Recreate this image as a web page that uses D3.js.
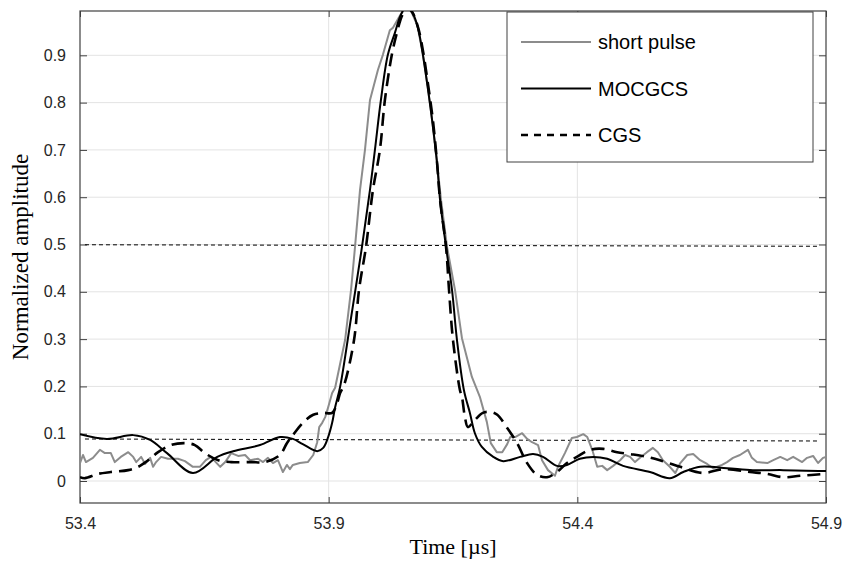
<!DOCTYPE html>
<html>
<head>
<meta charset="utf-8">
<script src="https://cdn.jsdelivr.net/npm/d3@7"></script>
<style>
  body { margin: 0; background: #fff; }
  .tick text { font-family: Arial, "Liberation Sans", sans-serif; font-size: 16px; fill: #262626; }
</style>
</head>
<body>
<div id="chart"></div>
<script>
// Время, мкс и амплитуды
const shortT = [53.400,53.406,53.412,53.426,53.440,53.450,53.462,53.470,53.482,53.497,53.507,53.513,53.523,53.531,53.541,53.547,53.553,53.563,53.577,53.597,53.611,53.627,53.641,53.653,53.663,53.682,53.692,53.704,53.718,53.732,53.742,53.758,53.768,53.778,53.788,53.798,53.808,53.816,53.822,53.828,53.842,53.858,53.869,53.877,53.881,53.887,53.893,53.899,53.907,53.913,53.933,53.945,53.953,53.963,53.973,53.983,53.999,54.009,54.023,54.029,54.044,54.054,54.064,54.078,54.088,54.098,54.108,54.118,54.126,54.138,54.154,54.168,54.188,54.204,54.218,54.226,54.238,54.249,54.259,54.265,54.275,54.289,54.299,54.309,54.321,54.329,54.341,54.355,54.361,54.375,54.389,54.399,54.412,54.420,54.430,54.440,54.450,54.460,54.472,54.486,54.496,54.506,54.516,54.526,54.540,54.552,54.562,54.572,54.586,54.597,54.607,54.621,54.633,54.647,54.661,54.673,54.691,54.701,54.713,54.727,54.743,54.751,54.761,54.782,54.794,54.808,54.822,54.834,54.852,54.862,54.874,54.884,54.894,54.900];
const shortV = [0.038,0.055,0.040,0.049,0.066,0.059,0.059,0.040,0.051,0.061,0.051,0.040,0.051,0.036,0.049,0.030,0.040,0.051,0.047,0.047,0.042,0.030,0.030,0.044,0.051,0.030,0.040,0.059,0.053,0.055,0.044,0.047,0.040,0.049,0.038,0.044,0.019,0.034,0.025,0.034,0.038,0.040,0.055,0.082,0.114,0.123,0.135,0.156,0.186,0.197,0.298,0.404,0.495,0.615,0.700,0.805,0.869,0.901,0.953,0.958,0.985,1.000,0.998,0.964,0.911,0.841,0.763,0.672,0.594,0.495,0.404,0.302,0.220,0.178,0.125,0.080,0.061,0.061,0.078,0.093,0.093,0.101,0.089,0.082,0.076,0.044,0.023,0.011,0.030,0.059,0.091,0.093,0.099,0.093,0.066,0.030,0.032,0.023,0.032,0.044,0.055,0.051,0.040,0.049,0.061,0.070,0.061,0.044,0.030,0.017,0.038,0.055,0.057,0.044,0.036,0.027,0.034,0.040,0.049,0.055,0.066,0.049,0.040,0.038,0.044,0.051,0.044,0.051,0.040,0.049,0.053,0.038,0.049,0.051];

const mocT = [53.400,53.454,53.507,53.541,53.575,53.627,53.676,53.708,53.762,53.802,53.828,53.848,53.877,53.889,53.899,53.907,53.913,53.923,53.945,53.967,53.983,53.993,54.005,54.019,54.033,54.044,54.054,54.064,54.078,54.088,54.098,54.108,54.118,54.124,54.136,54.148,54.158,54.172,54.184,54.194,54.208,54.231,54.251,54.285,54.311,54.331,54.359,54.379,54.405,54.432,54.460,54.492,54.546,54.586,54.613,54.647,54.701,54.753,54.814,54.900];
const mocV = [0.099,0.089,0.097,0.087,0.059,0.017,0.051,0.063,0.076,0.093,0.089,0.078,0.063,0.070,0.093,0.123,0.156,0.199,0.345,0.495,0.615,0.700,0.805,0.901,0.947,0.983,1.000,0.998,0.964,0.911,0.841,0.763,0.672,0.594,0.495,0.404,0.298,0.192,0.144,0.101,0.072,0.051,0.042,0.051,0.057,0.051,0.032,0.034,0.047,0.051,0.047,0.032,0.019,0.006,0.019,0.030,0.027,0.023,0.023,0.021];

const cgsT = [53.400,53.410,53.436,53.462,53.497,53.517,53.537,53.557,53.583,53.611,53.631,53.651,53.678,53.704,53.744,53.772,53.802,53.816,53.828,53.848,53.869,53.889,53.907,53.917,53.923,53.931,53.951,53.961,53.975,53.989,54.003,54.013,54.027,54.037,54.048,54.058,54.068,54.080,54.090,54.100,54.110,54.118,54.124,54.136,54.142,54.150,54.164,54.168,54.174,54.180,54.194,54.210,54.225,54.239,54.259,54.279,54.299,54.319,54.339,54.359,54.379,54.399,54.426,54.452,54.480,54.506,54.540,54.566,54.607,54.653,54.693,54.747,54.782,54.814,54.848,54.900];
const cgsV = [0.008,0.006,0.015,0.019,0.023,0.030,0.044,0.061,0.076,0.080,0.076,0.059,0.044,0.040,0.040,0.040,0.055,0.080,0.097,0.123,0.140,0.144,0.144,0.165,0.186,0.203,0.298,0.404,0.495,0.615,0.700,0.805,0.901,0.947,0.985,1.000,0.991,0.958,0.907,0.837,0.759,0.672,0.594,0.495,0.404,0.298,0.192,0.178,0.135,0.114,0.129,0.144,0.146,0.140,0.112,0.080,0.038,0.013,0.008,0.019,0.038,0.051,0.066,0.068,0.061,0.057,0.051,0.044,0.030,0.017,0.025,0.019,0.015,0.008,0.011,0.015];

// пунктирные уровни
const levelT = [53.41, 54.885];
const levelHigh = [0.4995, 0.4963];
const levelLow = [0.0888, 0.0846];

const xTicks = [53.4, 53.9, 54.4, 54.9];
const yTicks = [0, 0.1, 0.2, 0.3, 0.4, 0.5, 0.6, 0.7, 0.8, 0.9];
const legendNames = ["short pulse", "MOCGCS", "CGS"];

const W = 844, H = 564;
const margin = {top: 11, right: 18, bottom: 61, left: 80};
const width = W - margin.left - margin.right;
const height = H - margin.top - margin.bottom;

const svg = d3.select("#chart").append("svg")
    .attr("width", W).attr("height", H)
    .append("g")
    .attr("transform", `translate(${margin.left},${margin.top})`);

const x = d3.scaleLinear().domain([53.4, 54.9]).range([0, width]);
const y = d3.scaleLinear().domain([-0.0465, 0.9937]).range([height, 0]);

// сетка
svg.append("g").selectAll("line").data(yTicks).enter().append("line")
    .attr("x1", 0).attr("x2", width)
    .attr("y1", d => y(d)).attr("y2", d => y(d))
    .attr("stroke", "#e3e3e3").attr("stroke-width", 1);
svg.append("g").selectAll("line").data(xTicks.slice(1, -1)).enter().append("line")
    .attr("y1", 0).attr("y2", height)
    .attr("x1", d => x(d)).attr("x2", d => x(d))
    .attr("stroke", "#e3e3e3").attr("stroke-width", 1);

// оси
const axisColor = "#404040";
const gx = svg.append("g").attr("transform", `translate(0,${height})`)
    .call(d3.axisBottom(x).tickValues(xTicks).tickFormat(d3.format(".1f")).tickSizeInner(-6).tickSizeOuter(0).tickPadding(15));
const gy = svg.append("g")
    .call(d3.axisLeft(y).tickValues(yTicks).tickFormat(d => d === 0 ? "0" : d3.format(".1f")(d)).tickSizeInner(-7).tickSizeOuter(0).tickPadding(14));
const gx2 = svg.append("g")
    .call(d3.axisTop(x).tickValues(xTicks).tickFormat("").tickSizeInner(-6).tickSizeOuter(0));
const gy2 = svg.append("g").attr("transform", `translate(${width},0)`)
    .call(d3.axisRight(y).tickValues(yTicks).tickFormat("").tickSizeInner(-7).tickSizeOuter(0));
[gx, gy, gx2, gy2].forEach(g => {
    g.select(".domain").remove();
    g.selectAll(".tick line").attr("stroke", axisColor);
});
svg.append("rect").attr("width", width).attr("height", height)
    .attr("fill", "none").attr("stroke", axisColor).attr("stroke-width", 1.2);

// обрезка
svg.append("clipPath").attr("id", "clip").append("rect")
    .attr("width", width).attr("height", height);
const plot = svg.append("g").attr("clip-path", "url(#clip)");

const lvlLine = d3.line().x(d => x(d[0])).y(d => y(d[1]));
[levelHigh, levelLow].forEach(lv => {
    plot.append("path")
        .datum(levelT.map((t, i) => [t, lv[i]]))
        .attr("d", lvlLine)
        .attr("fill", "none").attr("stroke", "#000")
        .attr("stroke-width", 1).attr("stroke-dasharray", "4,3");
});

const zip = (a, b) => a.map((t, i) => [t, b[i]]);
const rough = d3.line().x(d => x(d[0])).y(d => y(d[1]));
const smooth = d3.line().x(d => x(d[0])).y(d => y(d[1])).curve(d3.curveCatmullRom.alpha(0.5));

plot.append("path").datum(zip(shortT, shortV)).attr("d", rough)
    .attr("fill", "none").attr("stroke", "#8c8c8c").attr("stroke-width", 2).attr("stroke-linejoin", "round");
plot.append("path").datum(zip(mocT, mocV)).attr("d", smooth)
    .attr("fill", "none").attr("stroke", "#000").attr("stroke-width", 2);
plot.append("path").datum(zip(cgsT, cgsV)).attr("d", smooth)
    .attr("fill", "none").attr("stroke", "#000").attr("stroke-width", 2.6).attr("stroke-dasharray", "13,7");

// подписи осей
svg.append("text")
    .attr("x", width / 2).attr("y", height + 51)
    .attr("text-anchor", "middle")
    .attr("font-family", "'Liberation Serif', 'Times New Roman', serif")
    .attr("font-size", 22).attr("fill", "#000")
    .text("Time [µs]");
svg.append("text")
    .attr("transform", `translate(${-52},${height / 2}) rotate(-90)`)
    .attr("text-anchor", "middle")
    .attr("font-family", "'Liberation Serif', 'Times New Roman', serif")
    .attr("font-size", 23).attr("fill", "#000")
    .text("Normalized amplitude");

// легенда
const lg = svg.append("g").attr("transform", `translate(${507 - margin.left},${12 - margin.top})`);
lg.append("rect").attr("width", 306).attr("height", 150)
    .attr("fill", "#fff").attr("stroke", axisColor).attr("stroke-width", 1);
const legendStyle = [
    {clr: "#8c8c8c", w: 2, dash: null},
    {clr: "#000", w: 2, dash: null},
    {clr: "#000", w: 2.6, dash: "7,6"}
];
legendNames.forEach((nm, i) => {
    const ly = 30 + i * 46.5;
    const st = legendStyle[i];
    const ln = lg.append("line").attr("x1", 14).attr("x2", 84).attr("y1", ly).attr("y2", ly)
        .attr("stroke", st.clr).attr("stroke-width", st.w);
    if (st.dash) ln.attr("stroke-dasharray", st.dash);
    lg.append("text").attr("x", 91).attr("y", ly + 7)
        .attr("font-family", "Arial, 'Liberation Sans', sans-serif")
        .attr("font-size", 20).attr("fill", "#000")
        .text(nm);
});
</script>
</body>
</html>
